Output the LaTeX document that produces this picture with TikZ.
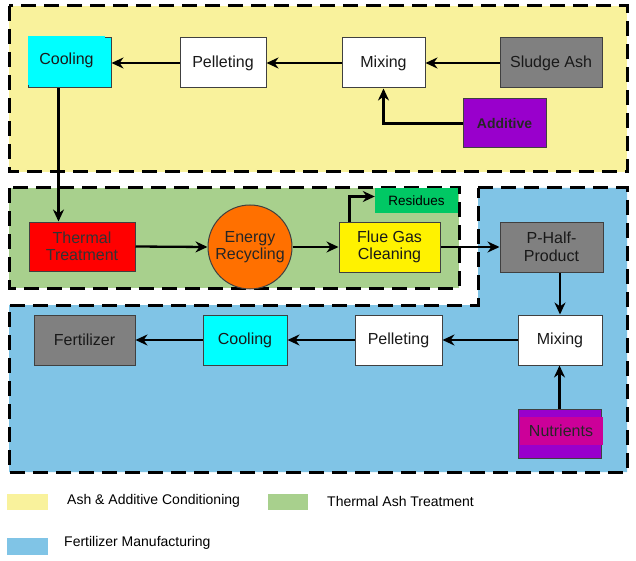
\documentclass[tikz,border=0pt]{standalone}
\usepackage{fontspec}
\setmainfont{Liberation Sans}
\usetikzlibrary{arrows.meta}
\definecolor{ylbg}{HTML}{F9F29C}
\definecolor{grbg}{HTML}{A8D08D}
\definecolor{blbg}{HTML}{80C4E6}
\definecolor{cyanb}{HTML}{00FFFF}
\definecolor{grayb}{HTML}{808080}
\definecolor{purpb}{HTML}{9900CC}
\definecolor{magb}{HTML}{CC0099}
\definecolor{orb}{HTML}{FF7000}
\definecolor{resb}{HTML}{00C864}
\definecolor{edgeb}{HTML}{404040}
\begin{document}
\begin{tikzpicture}[x=1pt,y=-1pt,
  region/.style={line width=3pt,dash pattern=on 15pt off 8pt},
  box/.style={draw=edgeb,line width=1pt,inner sep=0pt,align=center,
    font=\fontsize{16}{17.5}\selectfont,text=black!90},
  flow/.style={line width=2.3pt,-{Stealth[length=12pt,width=11pt]}},
  legtxt/.style={anchor=west,inner sep=0pt,font=\fontsize{14}{15}\selectfont}]
\useasboundingbox (0,0) rectangle (636,561);
% regions
\draw[region,fill=ylbg] (9,6) rectangle (627,172);
\draw[region,fill=grbg] (9,188) rectangle (459,288);
\draw[region,fill=blbg] (478,188) -- (627,188) -- (627,472) -- (9,472) -- (9,305) -- (478,305) -- cycle;
% top row
\node[box,fill=cyanb,minimum width=83pt,minimum height=50pt] (cool1) at (69.5,63) {};
\node[fill=cyanb,inner sep=0pt,minimum width=77pt,minimum height=49pt,
  font=\fontsize{16}{17}\selectfont,text=black!90] (cool1t) at (66.5,60.5) {Cooling};
\node[box,fill=white,minimum width=86pt,minimum height=50pt] (pel1) at (223,63) {Pelleting};
\node[box,fill=white,minimum width=83pt,minimum height=50pt] (mix1) at (383.5,63) {Mixing};
\node[box,fill=grayb,minimum width=102pt,minimum height=50pt] (sludge) at (551,63) {Sludge Ash};
\node[box,fill=purpb,minimum width=83pt,minimum height=49pt,
  font=\fontsize{14}{15}\selectfont\bfseries,text=black!85] (add) at (504.5,123.5) {Additive};
% middle row
\node[box,fill=red,minimum width=106pt,minimum height=49pt,text=black!80] (therm) at (82,246.5) {Thermal\\Treatment};
\node[box,circle,fill=orb,minimum size=84pt,text=black!85] (energy) at (250,247) {Energy\\Recycling};
\node[box,fill=yellow,minimum width=101pt,minimum height=50pt] (flue) at (389.5,247) {Flue Gas\\Cleaning};
\node[fill=resb,inner sep=0pt,minimum width=83pt,minimum height=25pt,
  font=\fontsize{13.5}{15}\selectfont] (res) at (416.5,200.5) {Residues};
\node[box,fill=grayb,minimum width=103pt,minimum height=50pt] (phalf) at (551.5,247) {P-Half-\\Product};
% bottom row
\node[box,fill=white,minimum width=84pt,minimum height=50pt] (mix2) at (560,340) {Mixing};
\node[box,fill=white,minimum width=87pt,minimum height=50pt] (pel2) at (398.5,340) {Pelleting};
\node[box,fill=cyanb,minimum width=84pt,minimum height=50pt] (cool2) at (245,340) {Cooling};
\node[box,fill=grayb,minimum width=101pt,minimum height=50pt] (fert) at (84.5,340) {Fertilizer};
\node[box,fill=purpb,minimum width=83pt,minimum height=49pt] (nutr) at (559.5,433.5) {};
\node[fill=magb,inner sep=0pt,minimum width=83pt,minimum height=28pt,
  font=\fontsize{16}{17}\selectfont,text=black!85] (nutrt) at (561,431) {Nutrients};
% connectors
\draw[flow] (sludge.west) -- (mix1.east);
\draw[flow] (mix1.west) -- (pel1.east);
\draw[flow] (pel1.west) -- (pel1.west -| cool1.east);
\draw[flow] (add.west) -| (mix1.south);
\draw[flow] ([xshift=-11pt]cool1.south) -- ([xshift=-11pt]cool1.south |- therm.north);
\draw[flow] (therm.east) -- (energy.west);
\draw[flow] (energy.east) -- (flue.west);
\draw[flow] ([xshift=-40pt]flue.north) |- ([yshift=4pt]res.west);
\draw[flow] (flue.east) -- (phalf.west);
\draw[flow] (mix2.north |- phalf.south) -- (mix2.north);
\draw[flow] (nutr.north) -- (nutr.north |- mix2.south);
\draw[flow] (mix2.west) -- (pel2.east);
\draw[flow] (pel2.west) -- (cool2.east);
\draw[flow] (cool2.west) -- (fert.east);
% legend
\fill[ylbg] (7,494) rectangle (48,510);
\node[legtxt] (l1) at (67,501) {Ash \& Additive Conditioning};
\fill[grbg] (268,494) rectangle (308,510);
\node[legtxt] (l2) at (327,501) {Thermal Ash Treatment};
\fill[blbg] (7,538) rectangle (48,555);
\node[legtxt] (l3) at (64,543) {Fertilizer Manufacturing};
\end{tikzpicture}
\end{document}
